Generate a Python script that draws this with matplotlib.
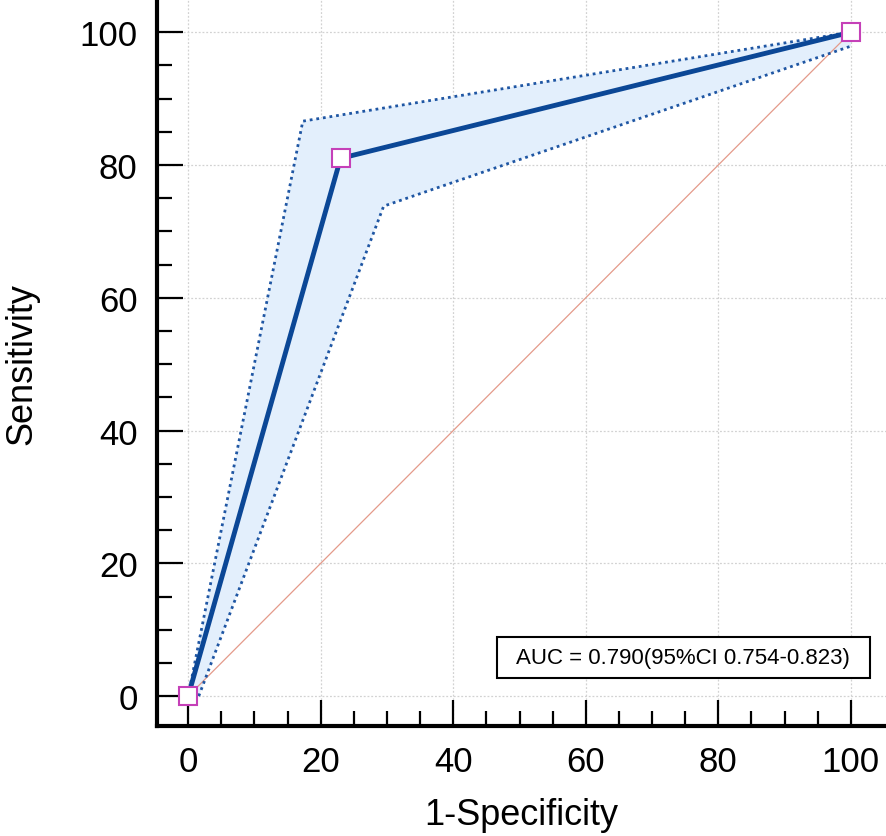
import matplotlib
matplotlib.use("Agg")
import matplotlib.pyplot as plt
from matplotlib.patches import Rectangle
from matplotlib.ticker import FixedLocator

plt.rcParams['font.family'] = ['Liberation Sans', 'DejaVu Sans']

# ROC curve (1-specificity, sensitivity) in %
roc_x = [0, 23, 100]
roc_y = [0, 81, 100]
# 95% confidence band
upper_x = [0, 17.3, 100]
upper_y = [0, 86.6, 100]
lower_x = [1.6, 29.5, 100]
lower_y = [0, 73.8, 97.9]
diag = [0, 100]
auc_text = "AUC = 0.790(95%CI 0.754-0.823)"
ticks = [0, 20, 40, 60, 80, 100]
minor_ticks = list(range(0, 101, 5))

fig = plt.figure(figsize=(8.86, 8.37), dpi=100)
ax = fig.add_axes([0.1772, 0.1314, 0.8228, 0.8686])

# confidence band fill
ax.fill(upper_x + lower_x[::-1], upper_y + lower_y[::-1],
        color='#e3effc', zorder=1, lw=0)
ax.plot(diag, diag, color='#e49a8a', lw=0.9, zorder=2)
ax.plot(upper_x, upper_y, color='#1f56a3', lw=2, ls=(0, (1, 1.4)), zorder=3)
ax.plot(lower_x, lower_y, color='#1f56a3', lw=2, ls=(0, (1, 1.4)), zorder=3)
ax.plot(roc_x, roc_y, color='#0b4796', lw=3.5, zorder=4,
        marker='s', ms=12.5, mfc='white', mec='#c540b8', mew=1.5)

# AUC box
ax.add_patch(Rectangle((46.6, 2.7), 56.3, 6.2, fc='white', ec='black',
                       lw=1.5, zorder=5))
ax.text(74.7, 5.8, auc_text, ha='center', va='center', fontsize=16, zorder=6)

ax.set_xlim(-4.7, 105.3)
ax.set_ylim(-4.5, 105)
ax.set_xticks(ticks)
ax.set_yticks(ticks)
ax.xaxis.set_minor_locator(FixedLocator(minor_ticks))
ax.yaxis.set_minor_locator(FixedLocator(minor_ticks))
ax.grid(True, which='major', color='#d2d2d2', ls=(0, (1.5, 1.5)), lw=0.9)
ax.set_axisbelow(True)

for s in ['top', 'right']:
    ax.spines[s].set_visible(False)
for s in ['left', 'bottom']:
    ax.spines[s].set_linewidth(3)

ax.tick_params(which='major', direction='in', length=19, width=1.6,
               labelsize=25, pad=14)
ax.tick_params(which='minor', direction='in', length=11, width=1.6)

ax.set_xlabel('1-Specificity', fontsize=26, labelpad=13)
ax.set_ylabel('Sensitivity', fontsize=26, labelpad=29)

fig.savefig('out.png', dpi=100)
